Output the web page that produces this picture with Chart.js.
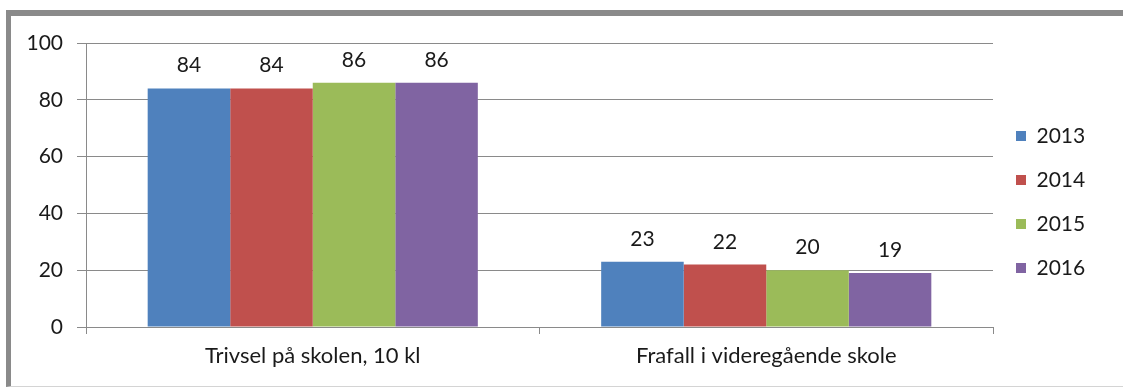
<!DOCTYPE html>
<html>
<head>
<meta charset="utf-8">
<script src="https://cdn.jsdelivr.net/npm/chart.js@4"></script>
<style>
  html, body { margin: 0; padding: 0; background: #fff; }
  #wrap { position: relative; width: 1123px; height: 388px; overflow: hidden; }
  #frame {
    position: absolute; left: 6px; top: 10px; width: 1200px; height: 370px;
    border-left: 5px solid #8a8a8a; border-top: 6px solid #8a8a8a;
    border-bottom: 1px solid #d4d4d4;
  }
  #chart { position: absolute; left: 0; top: 0; }
</style>
</head>
<body>
<div id="wrap">
  <div id="frame"></div>
  <canvas id="chart" width="1123" height="388"></canvas>
</div>
<script>
const categories = ["Trivsel på skolen, 10 kl", "Frafall i videregående skole"];
const years = ["2013", "2014", "2015", "2016"];
const values2013 = [84, 23];
const values2014 = [84, 22];
const values2015 = [86, 20];
const values2016 = [86, 19];
const yTicks = [0, 20, 40, 60, 80, 100];

const colors = ["#4F81BD", "#C0504D", "#9BBB59", "#8064A2"];
const seriesValues = [values2013, values2014, values2015, values2016];
const textColor = "#1a1a1a";
const lineColor = "#8a8a8a";
const font = { family: "Lato", size: 21 };
const categoryFont = { family: "Lato", size: 22 };

// numbers above each bar
const barValues = {
  id: 'barValues',
  afterDatasetsDraw(chart) {
    const ctx = chart.ctx;
    ctx.save();
    ctx.font = font.size + "px " + font.family;
    ctx.fillStyle = textColor;
    ctx.textAlign = "center";
    ctx.textBaseline = "alphabetic";
    chart.data.datasets.forEach(function (ds, i) {
      chart.getDatasetMeta(i).data.forEach(function (bar, j) {
        ctx.fillText(ds.data[j], bar.x, bar.y - 16);
      });
    });
    ctx.restore();
  }
};

// wider legend so the keys sit away from the plot, and lift the key column a little
const legendWidth = 122;
const legendLift = 13;
const wideLegend = {
  id: 'wideLegend',
  beforeLayout(chart) {
    const lg = chart.legend;
    if (lg && !lg._wide) {
      const fit = lg.fit;
      lg.fit = function () {
        fit.call(this);
        this.width = legendWidth;
        if (this.columnSizes && this.columnSizes[0]) this.columnSizes[0].height += legendLift;
      };
      lg._wide = true;
    }
  }
};

new Chart(document.getElementById("chart"), {
  type: 'bar',
  data: {
    labels: categories,
    datasets: years.map(function (y, i) {
      return {
        label: y,
        data: seriesValues[i],
        backgroundColor: colors[i],
        borderWidth: 0,
        categoryPercentage: 0.728,
        barPercentage: 1
      };
    })
  },
  options: {
    responsive: false,
    animation: false,
    layout: { padding: { top: 43, left: 0, bottom: 14, right: 8 } },
    plugins: {
      legend: {
        position: 'right',
        labels: {
          boxWidth: 10,
          boxHeight: 10,
          padding: 23,
          color: textColor,
          font: font
        }
      },
      tooltip: { enabled: false }
    },
    scales: {
      x: {
        grid: {
          display: true,
          drawOnChartArea: false,
          drawTicks: true,
          tickLength: 7,
          color: lineColor,
          offset: true
        },
        border: { color: lineColor },
        ticks: { color: textColor, font: categoryFont, padding: 9 },
        afterFit(scale) { scale.height = 47; }
      },
      y: {
        min: 0,
        max: 100,
        afterBuildTicks(scale) { scale.ticks = yTicks.map(function (v) { return { value: v }; }); },
        grid: { color: lineColor, tickLength: 9, drawTicks: true },
        border: { color: lineColor },
        ticks: { color: textColor, font: font, padding: 14 },
        afterFit(scale) { scale.width = 86; }
      }
    }
  },
  plugins: [barValues, wideLegend]
});
</script>
</body>
</html>
